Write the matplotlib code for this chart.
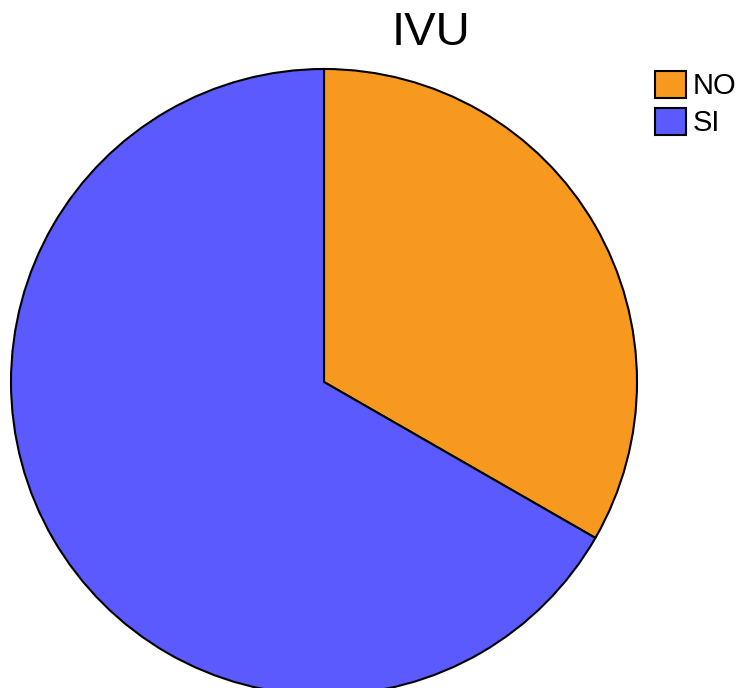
import matplotlib
matplotlib.use("Agg")
import matplotlib.pyplot as plt

categories = ["NO", "SI"]
values = [33.3, 66.7]
colors = ["#F7991F", "#5A5AFF"]
title = "IVU"

W, H = 739, 688
fig = plt.figure(figsize=(W / 100, H / 100), dpi=100)
cx, cy, r = 324, 382, 313
ax = fig.add_axes([(cx - r) / W, (H - cy - r) / H, 2 * r / W, 2 * r / H])
wedges, _ = ax.pie(values, colors=colors, startangle=90, counterclock=False,
                   radius=1.0, wedgeprops=dict(edgecolor="black", linewidth=1.5))
ax.set_xlim(-1, 1)
ax.set_ylim(-1, 1)
ax.set_aspect("equal")
ax.axis("off")

fig.text(431 / W, 1 - 11 / H, title, ha="center", va="top",
         fontsize=34, family="Liberation Sans")

leg = fig.legend(wedges, categories, loc="upper left",
                 bbox_to_anchor=(655 / W, 1 - 71 / H),
                 frameon=False, borderpad=0, borderaxespad=0,
                 handlelength=1.05, handleheight=1.05, handletextpad=0.25,
                 labelspacing=0.25, prop=dict(family="Liberation Sans", size=21))
for h in leg.legend_handles:
    h.set_linewidth(1.5)
    h.set_edgecolor("black")

fig.savefig("out.png", dpi=100)
